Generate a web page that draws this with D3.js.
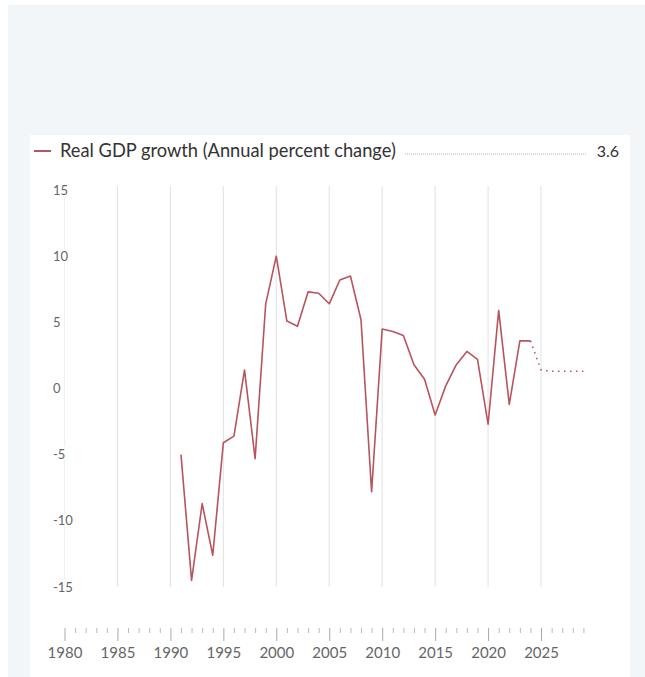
<!DOCTYPE html>
<html>
<head>
<meta charset="utf-8">
<script src="https://cdn.jsdelivr.net/npm/d3@7"></script>
<style>
  body { margin: 0; background: #fff; }
  svg { display: block; font-family: Lato, "Open Sans", sans-serif; }
</style>
</head>
<body>
<div id="root"></div>
<script>
// Real GDP growth, annual percent change
const years = d3.range(1991, 2025);
const growth = [-5.0, -14.5, -8.7, -12.6, -4.1, -3.6, 1.4, -5.3, 6.4, 10.0,
  5.1, 4.7, 7.3, 7.2, 6.4, 8.2, 8.5, 5.2, -7.8, 4.5,
  4.3, 4.0, 1.8, 0.7, -2.0, 0.2, 1.8, 2.8, 2.2, -2.7,
  5.9, -1.2, 3.6, 3.6];
const forecastYears = [2024, 2025, 2026, 2027, 2028, 2029];
const forecast = [3.6, 1.4, 1.3, 1.3, 1.3, 1.3];
const yTicks = [15, 10, 5, 0, -5, -10, -15];
const legendLabel = "Real GDP growth (Annual percent change)";
const legendValue = "3.6";

const W = 645, H = 677;
const lineColor = "#b8545c";

const svg = d3.select("#root")
  .append("svg")
  .attr("width", W)
  .attr("height", H);

// page background + card
svg.append("rect").attr("x", 8).attr("y", 5).attr("width", W - 8).attr("height", H - 5).attr("fill", "#f3f6f8");
svg.append("rect").attr("x", 30).attr("y", 135).attr("width", 600).attr("height", H - 135).attr("fill", "#fff");

// scales
const x = d3.scaleLinear().domain([1980, 2029]).range([64.5, 583.4]);
const y = d3.scaleLinear().domain([-15, 15]).range([587, 190]);

// vertical grid
svg.append("g")
  .selectAll("line")
  .data(d3.range(1980, 2026, 5))
  .enter()
  .append("line")
  .attr("x1", d => x(d)).attr("x2", d => x(d))
  .attr("y1", 186).attr("y2", 587)
  .attr("stroke", d => d === 1980 ? "#f0f0f0" : "#e6e6e6")
  .attr("stroke-width", 1.2);

// y labels
svg.append("g")
  .selectAll("text")
  .data(yTicks)
  .enter()
  .append("text")
  .attr("x", 53)
  .attr("y", d => y(d))
  .attr("dy", "0.35em")
  .attr("font-size", 13)
  .attr("fill", "#666")
  .attr("stroke", "#fff")
  .attr("stroke-width", 4)
  .attr("paint-order", "stroke")
  .text(d => d);

// x axis
const xAxis = svg.append("g")
  .attr("transform", "translate(0,628)")
  .call(d3.axisBottom(x)
    .tickValues(d3.range(1980, 2030))
    .tickSize(5)
    .tickFormat(d => d % 5 === 0 ? d : ""));

xAxis.select(".domain").remove();
xAxis.selectAll(".tick line")
  .attr("stroke", d => d % 5 === 0 ? "#a8a8b4" : "#b8b8c0")
  .attr("y2", d => d % 5 === 0 ? 13 : 5);
xAxis.selectAll(".tick text")
  .attr("y", 19)
  .attr("font-size", 15)
  .attr("font-family", "Lato, 'Open Sans', sans-serif")
  .attr("fill", "#666");

// series
const line = d3.line()
  .x(d => x(d[0]))
  .y(d => y(d[1]));

svg.append("path")
  .datum(years.map((yr, i) => [yr, growth[i]]))
  .attr("fill", "none")
  .attr("stroke", lineColor)
  .attr("stroke-width", 1.6)
  .attr("stroke-linejoin", "round")
  .attr("d", line);

svg.append("path")
  .datum(forecastYears.map((yr, i) => [yr, forecast[i]]))
  .attr("fill", "none")
  .attr("stroke", lineColor)
  .attr("stroke-width", 1.6)
  .attr("stroke-dasharray", "1.5,4.5")
  .attr("d", line);

// legend
const lg = svg.append("g");
lg.append("line")
  .attr("x1", 34).attr("x2", 51)
  .attr("y1", 151).attr("y2", 151)
  .attr("stroke", lineColor)
  .attr("stroke-width", 2);

const lt = lg.append("text")
  .attr("x", 60)
  .attr("y", 151)
  .attr("dy", "0.35em")
  .attr("font-size", 16)
  .attr("fill", "#333")
  .text(legendLabel);

// fit text to the reference width
const tw = lt.node().getComputedTextLength();
lt.attr("font-size", 16 * 336 / tw);

lg.append("line")
  .attr("x1", 405).attr("x2", 587)
  .attr("y1", 154).attr("y2", 154)
  .attr("stroke", "#b0b0b0")
  .attr("stroke-width", 1)
  .attr("stroke-dasharray", "1,1");

lg.append("text")
  .attr("x", 619)
  .attr("y", 151)
  .attr("dy", "0.35em")
  .attr("text-anchor", "end")
  .attr("font-size", 16)
  .attr("fill", "#333")
  .text(legendValue);
</script>
</body>
</html>
